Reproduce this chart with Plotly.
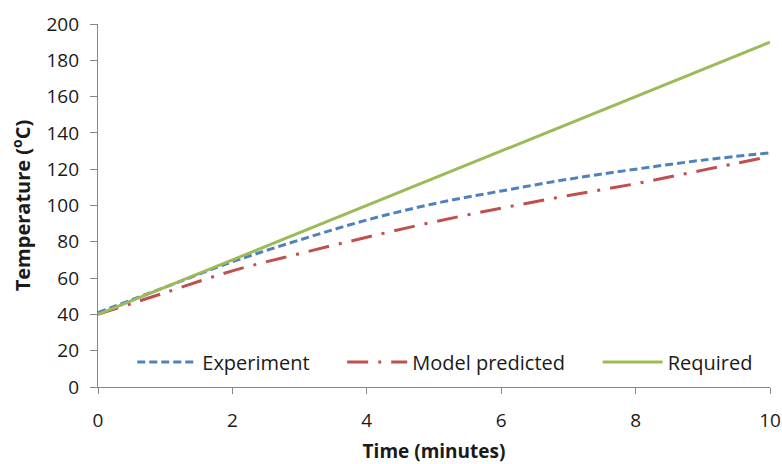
import plotly.graph_objects as go

# Time axis (minutes) and temperatures (°C)
time_min = [0, 1, 2, 3, 4, 5, 6, 7, 8, 9, 10]
experiment = [41, 55, 69, 81, 92, 101, 108, 114.5, 120, 125, 129]
model_predicted = [40, 52, 64, 73.5, 82.5, 91, 98.5, 105.5, 112, 119.5, 127]
required = [40, 55, 70, 85, 100, 115, 130, 145, 160, 175, 190]

font_family = "'Open Sans', Lato, sans-serif"
axis_color = "#868686"

fig = go.Figure()
fig.add_trace(go.Scatter(
    x=time_min, y=experiment, name="Experiment", mode="lines",
    line=dict(color="#4F81BD", width=3, dash="8px,4px", shape="spline"),
    legend="legend"))
fig.add_trace(go.Scatter(
    x=time_min, y=model_predicted, name="Model predicted", mode="lines",
    line=dict(color="#C0504D", width=3, dash="21px,10px,3px,10px", shape="spline"),
    legend="legend2"))
fig.add_trace(go.Scatter(
    x=time_min, y=required, name="Required", mode="lines",
    line=dict(color="#9BBB59", width=3),
    legend="legend3"))

legend_common = dict(orientation="h", yanchor="middle", y=0.069,
                     xanchor="left", bgcolor="rgba(0,0,0,0)", itemwidth=60,
                     font=dict(family=font_family, size=20, color="#1a1a1a"))

fig.update_layout(
    width=782, height=464,
    showlegend=True,
    margin=dict(l=98, r=12, t=24, b=77, autoexpand=False),
    paper_bgcolor="white", plot_bgcolor="white",
    font=dict(family=font_family, size=19, color="#1a1a1a"),
    legend=dict(x=0.051, **legend_common),
    legend2=dict(x=0.3634, **legend_common),
    legend3=dict(x=0.7435, **legend_common),
    xaxis=dict(
        range=[0, 10], tickvals=[0, 2, 4, 6, 8, 10],
        showgrid=False, zeroline=False, automargin=False,
        showline=True, linecolor=axis_color, linewidth=1.3,
        ticks="outside", ticklen=6, tickcolor=axis_color,
        tickfont=dict(size=19), ticklabelstandoff=10,
        title=dict(text="<b>Time (minutes)</b>", font=dict(size=19), standoff=14),
    ),
    yaxis=dict(
        range=[0, 200], tickvals=list(range(0, 201, 20)),
        showgrid=False, zeroline=False, automargin=False,
        showline=True, linecolor=axis_color, linewidth=1.3,
        ticks="outside", ticklen=7, tickcolor=axis_color,
        tickfont=dict(size=19), ticklabelstandoff=7,
        title=dict(text="<b>Temperature (<sup>o</sup>C)</b>", font=dict(size=20), standoff=10),
    ),
)

fig.write_html("out.html")
